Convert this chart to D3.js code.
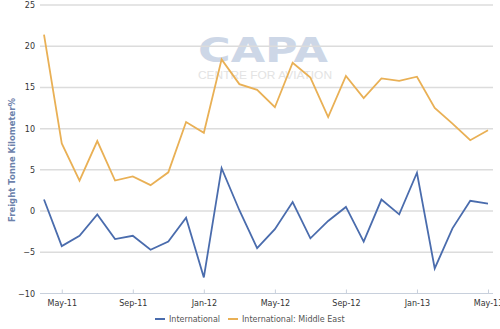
<!DOCTYPE html>
<html>
<head>
<meta charset="utf-8">
<script src="https://cdn.jsdelivr.net/npm/d3@7/dist/d3.min.js"></script>
<style>
  html, body { margin: 0; padding: 0; background: #fff; }
  svg { display: block; }
</style>
</head>
<body>
<svg id="chart" width="500" height="329"></svg>
<script>
const months = ["Apr-11","May-11","Jun-11","Jul-11","Aug-11","Sep-11","Oct-11","Nov-11","Dec-11",
  "Jan-12","Feb-12","Mar-12","Apr-12","May-12","Jun-12","Jul-12","Aug-12","Sep-12","Oct-12","Nov-12","Dec-12",
  "Jan-13","Feb-13","Mar-13","Apr-13","May-13"];
const international = [1.4,-4.25,-3.0,-0.4,-3.4,-3.0,-4.7,-3.7,-0.8,-8.05,5.2,0.1,-4.5,-2.2,1.1,-3.3,-1.2,0.5,-3.7,1.4,-0.4,4.65,-6.95,-2.1,1.25,0.9];
const middleEast = [21.4,8.2,3.7,8.5,3.7,4.2,3.15,4.7,10.8,9.5,18.4,15.4,14.7,12.6,18.0,16.2,11.4,16.4,13.7,16.1,15.8,16.3,12.5,10.6,8.6,9.8];
const yTicks = [-10,-5,0,5,10,15,20,25];
const xTickLabels = ["May-11","Sep-11","Jan-12","May-12","Sep-12","Jan-13","May-13"];
const seriesNames = ["International","International: Middle East"];
const colors = ["#4a6cad","#e9b055"];

const svg = d3.select("#chart");
const plotLeft = 40, plotRight = 493, plotTop = 5, plotBottom = 293.5;

const x = d3.scalePoint().domain(months).range([44, 488]);
const y = d3.scaleLinear().domain([-10, 25]).range([plotBottom, plotTop]);

// watermark
const wm = svg.append("g");
wm.append("text").attr("x", 263).attr("y", 62).attr("text-anchor", "middle")
  .style("font-family", "'DejaVu Sans', sans-serif").style("font-weight", "bold")
  .style("font-size", "33px").attr("fill", "#cdd7e7").attr("textLength", 130)
  .attr("lengthAdjust", "spacingAndGlyphs").text("CAPA");
wm.append("text").attr("x", 265).attr("y", 79).attr("text-anchor", "middle")
  .style("font-family", "'Liberation Sans', Arial, sans-serif")
  .style("font-size", "10px").attr("fill", "#e3e3e3").attr("textLength", 134)
  .attr("lengthAdjust", "spacingAndGlyphs").text("CENTRE FOR AVIATION");

// gridlines
svg.append("g").selectAll("line").data(yTicks).join("line")
  .attr("x1", plotLeft).attr("x2", plotRight)
  .attr("y1", d => y(d)).attr("y2", d => y(d))
  .attr("stroke", d => d === -10 ? "#c8d0dc" : "#dcdcdc").attr("stroke-width", d => d === -10 ? 1 : 1.5);

// y axis labels
const yAxis = d3.axisLeft(y).tickValues(yTicks).tickSize(0).tickPadding(0);
const yg = svg.append("g").attr("transform", `translate(35,0)`).call(yAxis);
yg.select(".domain").remove();
yg.selectAll("text").attr("fill", "#333").style("font-family", "'DejaVu Sans', sans-serif")
  .style("font-size", "8px").attr("dy", "0.32em");

// x axis
const xAxis = d3.axisBottom(x).tickValues(xTickLabels).tickSize(4).tickPadding(3);
const xg = svg.append("g").attr("transform", `translate(0,${plotBottom})`).call(xAxis);
xg.select(".domain").remove();
xg.selectAll(".tick line").attr("stroke", "#c8d0dc").attr("y1", -4).attr("y2", 0);
xg.selectAll("text").attr("fill", "#333").style("font-family", "'DejaVu Sans', sans-serif")
  .style("font-size", "8px");

// y axis title
svg.append("text").attr("transform", "translate(15,160) rotate(-90)")
  .attr("text-anchor", "middle").attr("fill", "#6d82ab")
  .style("font-family", "'DejaVu Sans', sans-serif").style("font-weight", "bold")
  .style("font-size", "8.5px").text("Freight Tonne Kilometer%");

// lines
const line = d3.line().x((d, i) => x(months[i])).y(d => y(d));
svg.append("path").datum(middleEast).attr("d", line).attr("fill", "none")
  .attr("stroke", colors[1]).attr("stroke-width", 1.8).attr("stroke-linejoin", "miter");
svg.append("path").datum(international).attr("d", line).attr("fill", "none")
  .attr("stroke", colors[0]).attr("stroke-width", 1.8).attr("stroke-linejoin", "miter");

// legend
const legend = svg.append("g");
const legX = [155, 228];
seriesNames.forEach((name, i) => {
  legend.append("line").attr("x1", legX[i]).attr("x2", legX[i] + 10)
    .attr("y1", 319).attr("y2", 319).attr("stroke", colors[i]).attr("stroke-width", 2);
  legend.append("text").attr("x", legX[i] + 14).attr("y", 322)
    .attr("fill", "#555").style("font-family", "'DejaVu Sans', sans-serif")
    .style("font-size", "8px").text(name);
});
</script>
</body>
</html>
